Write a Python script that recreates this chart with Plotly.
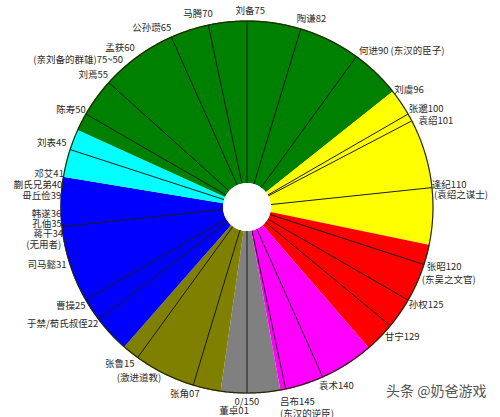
import plotly.graph_objects as go

# full circle = 150 units, 0/150 at the bottom, increasing clockwise
SCALE = 150.0
DEG = 360.0 / SCALE

# colour groups (start, end in scale units)
group_start = [145.7, 3.4, 17.2, 41.4, 47.7, 96.5, 117.4, 133.0]
group_end = [3.4, 17.2, 41.4, 47.7, 96.5, 117.4, 133.0, 145.7]
group_colors = ["#808080", "#808000", "#0000FF", "#00FFFF",
                "#008000", "#FFFF00", "#FF0000", "#FF00FF"]

# radial dividing lines
line_values = [0, 7, 15, 22, 25, 35, 45, 50, 55, 65, 70, 75, 82, 90,
               100, 101, 110, 120, 125, 129, 140, 145]

# labels: text, position on the scale, radius
left_labels = ["马腾70", "公孙瓒65", "孟获60", "(亲刘备的群雄)75~50", "刘焉55",
               "陈寿50", "刘表45", "邓艾41", "蒯氏兄弟40", "毌丘俭39", "韩遂36",
               "孔伷35", "蒋干34", "(无用者)", "司马懿31", "曹操25",
               "于禁/荀氏叔侄22", "张鲁15", "(激进道教)", "张角07"]
left_pos = [70.8, 65.4, 60.3, 58.2, 55.6, 50.4, 45.6, 41.7, 40.3, 38.9, 36.5,
            35.3, 34.0, 32.6, 30.0, 24.3, 21.5, 14.8, 11.1, 5.9]
left_r = [1.057, 1.046, 1.052, 1.034, 1.034, 1.012, 1.034, 1.0, 1.0, 1.0, 1.0,
          1.0, 1.0, 1.023, 1.023, 1.023, 1.023, 1.046, 1.034, 1.046]

right_labels = ["陶谦82", "何进90 (东汉的臣子)", "刘虞96", "张邈100", "袁绍101",
                "逢纪110", "(袁绍之谋士)", "张昭120", "(东吴之文官)", "孙权125",
                "甘宁129", "袁术140"]
right_pos = [81.2, 89.9, 96.5, 99.6, 101.5, 109.7, 111.1, 120.3, 122.0, 125.6,
             130.6, 140.9]
right_r = [1.046, 1.034, 1.012, 1.017, 1.034, 1.0, 1.008, 1.023, 1.023, 1.023,
           1.023, 1.046]

below_labels = ["吕布145<br>(东汉的逆臣)"]
below_pos = [145.9]
below_r = [1.045]

center_labels = ["刘备75", "0/150", "董卓01"]
center_pos = [75.4, 0, 1.5]
center_r = [1.057, 1.057, 1.115]

FONT = "Noto Sans CJK SC"
R_MAX = 1.125
STEP = 0.25      # angular sampling of the sector outlines (scale units)
RIM_PAD = 0.004  # let the fills tuck under the rim line

fig = go.Figure()

# coloured sectors, drawn as filled outlines
for s, e, c in zip(group_start, group_end, group_colors):
    span = (e - s) % SCALE
    n = int(span / STEP) + 1
    arc = [(s + span * i / n) * DEG for i in range(n + 1)]
    fig.add_trace(go.Scatterpolar(
        r=[1 + RIM_PAD] * len(arc) + [0] * len(arc), theta=arc + arc[::-1],
        mode="lines", fill="toself", fillcolor=c,
        line=dict(width=0, color=c),
        hoverinfo="skip", showlegend=False))

# radial lines
lr, lt = [], []
for v in line_values:
    lr += [0, 1, None]
    lt += [v * DEG, v * DEG, None]
fig.add_trace(go.Scatterpolar(
    r=lr, theta=lt, mode="lines",
    line=dict(color="#1a1a1a", width=1),
    hoverinfo="skip", showlegend=False))

# outer rim
rim_t = [a * 0.5 for a in range(721)]
fig.add_trace(go.Scatterpolar(
    r=[1] * len(rim_t), theta=rim_t, mode="lines",
    line=dict(color="#262600", width=1.2),
    hoverinfo="skip", showlegend=False))

# labels
for texts, pos, rr, tp in [(left_labels, left_pos, left_r, "middle left"),
                           (right_labels, right_pos, right_r, "middle right"),
                           (below_labels, below_pos, below_r, "bottom right"),
                           (center_labels, center_pos, center_r, "middle center")]:
    fig.add_trace(go.Scatterpolar(
        r=rr, theta=[p * DEG for p in pos], text=texts, mode="text",
        textposition=tp, cliponaxis=False,
        textfont=dict(family=FONT, size=9.5, color="#2a2a2a"),
        hoverinfo="skip", showlegend=False))

fig.update_layout(
    width=500, height=417,
    margin=dict(l=0, r=0, t=0, b=0),
    paper_bgcolor="white",
    polar=dict(
        domain=dict(x=[0.0815, 0.9065], y=[0.009, 0.998]),
        hole=0.1164,
        bgcolor="white",
        angularaxis=dict(rotation=-90, direction="clockwise",
                         showticklabels=False, ticks="", showgrid=False,
                         showline=False),
        radialaxis=dict(visible=False, range=[0, R_MAX]),
    ),
    annotations=[dict(text="头条 @奶爸游戏", x=0.975, y=0.065, xref="paper",
                      yref="paper", xanchor="right", yanchor="middle",
                      showarrow=False,
                      font=dict(family=FONT, size=14, color="#555555"))],
)

# page body has a default margin; drop it so the 500x417 figure fills the window
fig.write_html("out.html", config={"displayModeBar": False},
               post_script="document.body.style.margin='0';")
